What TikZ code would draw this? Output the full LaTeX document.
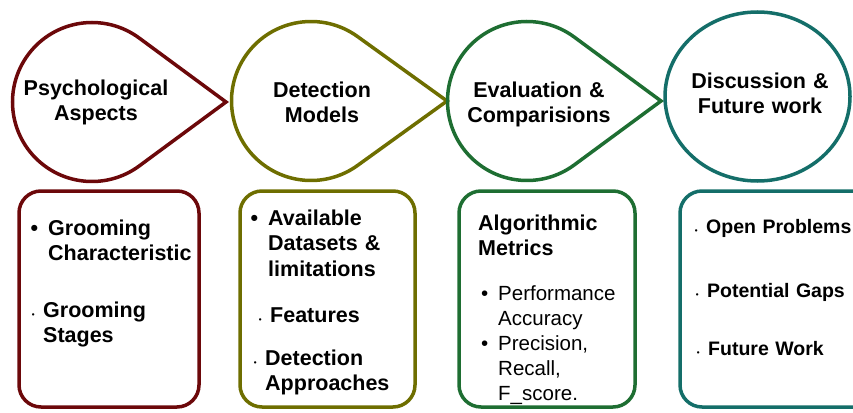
\documentclass[tikz,border=0pt]{standalone}
\usepackage{fontspec}
\setmainfont{Liberation Sans}
\usetikzlibrary{positioning, calc}

\definecolor{maroonline}{RGB}{108,8,10}
\definecolor{oliveline}{RGB}{110,110,0}
\definecolor{greenline}{RGB}{30,110,50}
\definecolor{tealline}{RGB}{20,110,105}

\newcommand{\bigdot}{\llap{\textbullet\hspace{10pt}}}
\newcommand{\smalldot}{\llap{{\fontsize{8}{8}\selectfont\textbullet}\hspace{8.5pt}}}

\begin{document}
\begin{tikzpicture}[
    x=1pt, y=-1pt,
    drop/.style={line width=3.5pt, line join=miter},
    stage/.style={circle, minimum size=159pt, inner sep=0pt, outer sep=0pt},
    head/.style={text width=190pt, align=center, anchor=base, inner sep=0pt, font=\fontsize{21.5}{25.5}\selectfont\bfseries},
    topic/.style={rectangle, draw, rounded corners=22pt, line width=3.5pt, minimum height=216pt, inner sep=0pt},
    item/.style={text width=175pt, align=left, anchor=base west, inner sep=0pt, font=\fontsize{21.5}{25.5}\selectfont\bfseries},
    plain/.style={item, font=\fontsize{20.5}{25}\selectfont},
    short/.style={item, font=\fontsize{19.5}{24}\selectfont\bfseries}
]
\useasboundingbox (0,0) rectangle (853,412);
\clip (0,0) rectangle (853,412);

% top row: drops pointing right
\node[stage] (psy) at (92,102) {};
\coordinate (psytip) at (226,102);
\draw[drop, maroonline] ($(psy.center)+(53.3:79.5pt)$) arc[start angle=53.3, end angle=306.7, radius=79.5pt] -- (psytip) -- cycle;

\node[stage] (det) at (311,101) {};
\coordinate (dettip) at (447,101);
\draw[drop, oliveline] ($(det.center)+(54.2:79.5pt)$) arc[start angle=54.2, end angle=305.8, radius=79.5pt] -- (dettip) -- cycle;

\node[stage] (eva) at (527,101) {};
\coordinate (evatip) at (661,101);
\draw[drop, greenline] ($(eva.center)+(53.6:79.5pt)$) arc[start angle=53.6, end angle=306.4, radius=79.5pt] -- (evatip) -- cycle;

\node[stage] (dis) at (757.5,96.5) {};
\draw[drop, tealline] (dis.center) ellipse[x radius=92.5pt, y radius=84.5pt];

\node[head] (psytxt) at (96,95) {Psychological\\Aspects};
\node[head] (dettxt) at (322,97) {Detection\\Models};
\node[head] (evatxt) at (539,97) {Evaluation \&\\Comparisions};
\node[head] (distxt) at (760,88) {Discussion \&\\Future work};

% bottom row: topic boxes
\node[topic, draw=maroonline, minimum width=180pt] (psybox) at (109,299) {};
\node[topic, draw=oliveline, minimum width=175pt] (detbox) at (327.5,299) {};
\node[topic, draw=greenline, minimum width=176pt] (evabox) at (547,299) {};
\node[topic, draw=tealline, minimum width=200pt] (disbox) at (780,299) {};

\node[item] (groomchar) at (48,235) {\bigdot Grooming\\Characteristic};
\node[item] (groomstage) at (43,317) {\smalldot Grooming\\Stages};

\node[item] (datasets) at (268,225) {\bigdot Available\\Datasets \&\\limitations};
\node[item] (features) at (270,322) {\smalldot Features};
\node[item] (approaches) at (265,365) {\smalldot Detection\\Approaches};

\node[item] (metrics) at (478,230) {Algorithmic\\Metrics};
\node[plain] (accuracy) at (498,300) {\bigdot Performance\\Accuracy};
\node[plain] (fscore) at (498,350) {\bigdot Precision,\\Recall,\\F\_score.};

\node[short] (problems) at (706,233) {\smalldot Open Problems};
\node[short] (gaps) at (707,297) {\smalldot Potential Gaps};
\node[short] (future) at (708,355) {\smalldot Future Work};
\end{tikzpicture}
\end{document}
